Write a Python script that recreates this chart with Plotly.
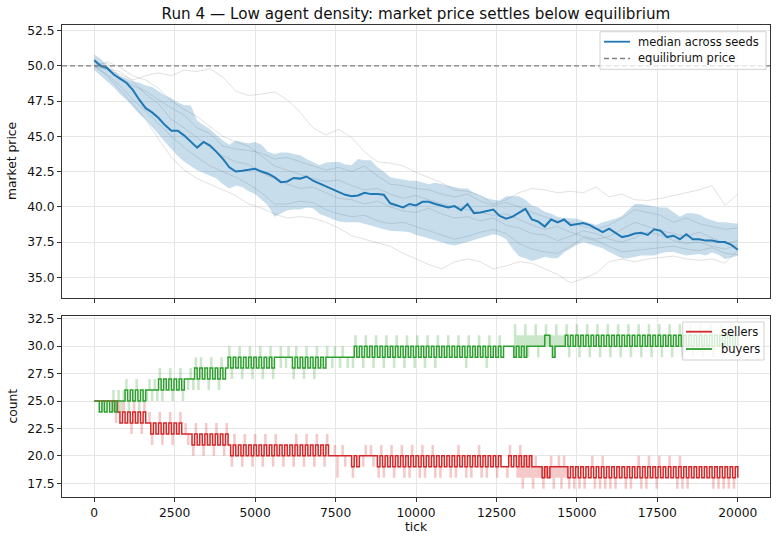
import plotly.graph_objects as go

# ---------------- data ----------------
price_ticks = list(range(0, 20001, 200))
seed_ticks = list(range(0, 20001, 400))
count_ticks = list(range(0, 20001, 80))

equilibrium_price = 50.0

median_price = [
    50.4, 50.0, 49.85, 49.4, 49.1, 48.8, 48.3, 47.6, 47.0, 46.7,
    46.3, 45.8, 45.4, 45.4, 45.05, 44.6, 44.2, 44.6, 44.35, 43.9,
    43.4, 42.8, 42.5, 42.55, 42.6, 42.7, 42.5, 42.35, 42.1, 41.75,
    41.8, 42.05, 42.0, 42.15, 41.85, 41.65, 41.45, 41.25, 41.1, 40.85,
    40.75, 40.8, 41.0, 40.9, 40.9, 40.85, 40.25, 40.1, 39.95, 40.2,
    40.1, 40.35, 40.35, 40.2, 40.05, 39.95, 40.05, 39.75, 40.2, 39.55,
    39.6, 39.7, 39.8, 39.35, 39.15, 39.3, 39.55, 39.85, 39.1, 38.95,
    38.6, 39.1, 38.9, 39.1, 38.7, 38.75, 38.85, 38.7, 38.45, 38.2,
    38.45, 38.15, 37.85, 37.95, 38.1, 38.15, 38.0, 38.4, 38.3, 37.85,
    37.95, 37.7, 38.05, 37.7, 37.7, 37.6, 37.6, 37.5, 37.5, 37.3,
    36.95]

band_hi = [
    50.8, 50.5, 50.0, 49.6, 49.3, 49.1, 48.9, 48.8, 48.6, 48.5,
    48.2, 47.9, 47.7, 47.4, 47.2, 47.2, 46.1, 45.8, 45.5, 45.1,
    44.7, 44.4, 44.7, 44.6, 44.5, 44.6, 44.4, 43.9, 43.75, 43.85,
    43.85, 43.75, 43.65, 43.4, 43.2, 42.95, 43.15, 43.2, 43.2, 43.0,
    42.95, 43.4, 43.3, 43.3, 42.8, 42.5, 42.1, 42.0, 41.9, 41.85,
    41.85, 41.75, 41.6, 41.7, 41.6, 41.5, 41.4, 41.3, 41.3, 41.0,
    40.8, 40.6, 40.5, 40.45, 40.75, 40.75, 40.75, 40.5, 40.1, 39.95,
    39.65, 39.5, 39.3, 39.2, 39.15, 39.15, 39.0, 38.85, 38.7, 38.9,
    39.0, 39.15, 39.35, 39.8, 40.2, 40.2, 40.1, 40.05, 39.95, 39.95,
    39.6, 39.3, 39.55, 39.55, 39.45, 39.2, 39.05, 38.9, 38.9, 38.85,
    38.8]

band_lo = [
    49.7, 49.3, 48.95, 48.5, 48.0, 47.6, 47.1, 46.6, 46.2, 45.7,
    45.15, 44.6, 44.1, 43.6, 43.2, 42.9, 42.6, 42.4, 42.2, 42.0,
    41.6, 41.3, 41.5, 41.4, 41.1, 40.9, 40.5, 40.1, 39.3, 39.5,
    39.75, 39.8, 39.8, 39.95, 39.9, 39.5, 39.3, 39.1, 38.95, 38.9,
    38.9, 38.9, 38.8, 38.65, 38.5, 38.4, 38.3, 38.3, 38.25, 38.2,
    38.0, 37.9, 37.75, 37.6, 37.45, 37.35, 37.25, 37.35, 37.5, 37.65,
    37.8, 37.95, 38.05, 37.95, 37.7, 37.0, 36.5, 36.35, 36.15, 36.3,
    36.45, 36.35, 36.35, 36.75, 37.05, 37.3, 37.5, 37.35, 37.2, 37.05,
    36.8, 36.55, 36.35, 36.35, 36.45, 36.55, 36.55, 36.55, 36.7, 36.8,
    36.8, 36.7, 36.55, 36.6, 36.65, 36.55, 36.75, 36.6, 36.3, 36.4,
    36.55]

seed_a = [50.0, 49.7, 49.4, 49.0, 49.3, 49.5, 49.3, 49.7, 49.6, 49.8,
          49.2, 48.2, 47.9, 48.0, 48.15, 47.6, 46.7, 45.6, 45.1, 45.5,
          44.9, 43.9, 43.2, 43.1, 42.9, 42.45, 42.1, 41.7, 41.2, 41.1,
          40.8, 40.2, 40.5, 41.0, 41.3, 41.2, 41.0, 41.1, 41.0, 41.4,
          40.7, 40.9, 40.5, 40.45, 40.6, 40.8, 41.0, 41.2, 41.5, 40.1, 40.9]
seed_b = [50.0, 49.3, 48.3, 47.3, 46.2, 44.8, 43.5, 42.6, 42.0, 41.6,
          41.2, 40.8, 40.2, 39.9, 39.5, 39.2, 39.3, 39.2, 38.9, 38.5,
          37.95, 37.7, 37.5, 37.2, 36.7, 36.3, 35.9, 35.6, 36.1, 36.3,
          36.1, 35.6, 35.8, 36.1, 36.0, 35.6, 35.2, 34.6, 34.9, 35.3,
          36.1, 36.3, 36.1, 36.3, 36.4, 36.5, 36.3, 36.2, 36.3, 36.0, 36.9]
seed_c = [50.0, 50.2, 49.2, 48.6, 48.2, 47.6, 47.0, 46.5, 45.6, 45.2,
          44.3, 44.1, 44.0, 43.8, 43.4, 43.5, 43.2, 42.9, 42.6, 42.8,
          42.5, 42.9, 42.2, 41.6, 41.5, 41.3, 41.2, 40.9, 40.7, 40.9,
          40.4, 40.1, 40.3, 40.0, 39.6, 39.3, 39.0, 38.9, 38.6, 38.4,
          38.7, 39.2, 39.8, 39.6, 39.4, 38.9, 39.2, 38.8, 38.6, 38.4, 38.5]
seed_d = [50.0, 49.4, 48.6, 47.6, 46.8, 45.9, 45.0, 44.2, 43.5, 42.9,
          42.5, 42.1, 41.6, 41.0, 40.2, 40.2, 40.4, 40.3, 39.8, 39.5,
          39.3, 39.4, 39.0, 38.8, 38.9, 38.6, 38.3, 38.0, 37.7, 37.9,
          38.2, 38.4, 38.1, 37.4, 37.0, 36.8, 36.7, 37.2, 37.8, 37.6,
          37.2, 36.8, 36.9, 37.0, 37.1, 37.2, 37.0, 36.9, 37.1, 36.7, 36.6]
seed_e = [50.0, 49.8, 49.6, 48.9, 48.0, 47.3, 46.2, 45.6, 44.9, 44.2,
          43.6, 43.2, 43.0, 42.4, 42.0, 41.6, 41.3, 41.4, 41.0, 40.6,
          40.5, 40.2, 40.4, 40.0, 39.7, 39.6, 39.9, 39.5, 39.2, 39.3,
          39.0, 39.2, 38.7, 38.5, 38.1, 38.0, 37.6, 37.9, 38.3, 38.1,
          37.7, 37.5, 37.8, 38.2, 38.0, 37.6, 37.4, 37.5, 37.2, 37.0, 37.3]
seed_f = [50.0, 50.3, 49.9, 49.3, 49.0, 48.4, 47.5, 46.9, 46.4, 45.7,
          45.0, 44.6, 44.3, 43.6, 42.9, 42.6, 42.3, 42.0, 41.8, 41.9,
          41.5, 41.2, 41.3, 40.9, 40.6, 40.8, 40.5, 40.2, 40.0, 39.8,
          39.6, 39.4, 39.5, 39.1, 38.7, 38.4, 38.6, 38.2, 37.9, 37.7,
          37.9, 38.4, 38.9, 38.6, 38.3, 38.1, 37.9, 38.2, 37.8, 37.4, 37.6]

sellers = [
    25, 25, 25, 25, 25, 25, 25, 25, 25, 24, 23, 24, 23, 24, 23, 24, 23, 24, 23, 24,
    23, 23, 22, 23, 22, 23, 22, 23, 22, 23, 22, 23, 22, 23, 22, 22, 22, 22, 21, 22,
    21, 22, 21, 22, 21, 22, 21, 22, 21, 22, 21, 22, 21, 20, 21, 20, 21, 20, 21, 20,
    21, 20, 21, 20, 21, 20, 21, 20, 21, 20, 21, 20, 21, 20, 21, 20, 21, 20, 21, 20,
    21, 20, 21, 20, 21, 20, 21, 20, 21, 20, 21, 20, 20, 20, 20, 20, 20, 20, 20, 20,
    19, 20, 19, 20, 20, 20, 20, 20, 20, 20, 19, 20, 19, 20, 19, 20, 19, 20, 19, 20,
    19, 20, 19, 20, 19, 20, 19, 20, 19, 20, 19, 20, 19, 20, 19, 20, 19, 20, 19, 20,
    19, 20, 19, 20, 19, 20, 19, 20, 19, 20, 19, 20, 19, 20, 19, 20, 19, 20, 19, 19,
    19, 20, 19, 20, 19, 20, 19, 20, 19, 20, 19, 19, 19, 19, 18, 19, 18, 19, 19, 19,
    19, 19, 19, 19, 18, 19, 18, 19, 18, 19, 18, 19, 18, 19, 18, 19, 18, 19, 18, 19,
    18, 19, 18, 19, 18, 19, 18, 19, 18, 19, 18, 19, 18, 19, 18, 19, 18, 19, 18, 19,
    18, 19, 18, 19, 18, 19, 18, 19, 18, 19, 18, 19, 18, 19, 18, 19, 18, 19, 18, 19,
    18, 19, 18, 19, 18, 19, 18, 19, 18, 19, 18]
sellers_hi = [
    25, 25, 25, 25, 25, 25, 25, 25, 25, 25, 23, 25, 23, 24, 23, 25, 23, 24, 23, 25,
    23, 24, 22, 23, 22, 24, 22, 23, 22, 24, 22, 23, 22, 24, 22, 23, 22, 22, 21, 23,
    21, 22, 21, 23, 21, 22, 21, 23, 21, 22, 21, 23, 21, 20, 22, 20, 21, 20, 22, 20,
    21, 20, 22, 20, 21, 20, 22, 20, 21, 20, 22, 20, 21, 20, 21, 20, 21, 20, 22, 20,
    21, 20, 22, 20, 21, 20, 22, 20, 21, 20, 22, 20, 20, 21, 20, 20, 21, 20, 20, 20,
    19, 20, 19, 20, 20, 21, 20, 21, 20, 20, 19, 21, 19, 20, 19, 21, 19, 20, 19, 21,
    19, 20, 19, 21, 19, 20, 19, 21, 19, 20, 19, 21, 19, 20, 19, 20, 19, 20, 19, 20,
    19, 21, 19, 20, 19, 20, 19, 20, 19, 21, 19, 20, 19, 20, 19, 20, 19, 20, 19, 19,
    19, 21, 19, 20, 19, 21, 19, 20, 19, 20, 19, 20, 19, 19, 19, 19, 19, 20, 19, 19,
    20, 19, 20, 19, 18, 19, 18, 19, 18, 19, 18, 19, 18, 20, 18, 19, 18, 20, 18, 19,
    18, 19, 18, 19, 18, 19, 18, 19, 18, 19, 18, 20, 18, 19, 18, 20, 18, 19, 18, 20,
    18, 19, 18, 20, 18, 19, 18, 20, 18, 19, 18, 19, 18, 19, 18, 19, 18, 19, 18, 19,
    18, 19, 18, 19, 18, 19, 18, 19, 18, 19, 18]
sellers_lo = [
    25, 25, 25, 25, 25, 25, 25, 24, 23, 24, 23, 24, 23, 24, 22, 24, 23, 24, 22, 24,
    23, 23, 21, 23, 22, 23, 21, 23, 22, 23, 21, 23, 22, 23, 22, 22, 21, 22, 20, 22,
    21, 22, 20, 22, 21, 22, 20, 22, 21, 22, 20, 22, 21, 19, 21, 20, 21, 19, 21, 20,
    21, 19, 21, 20, 21, 19, 21, 20, 21, 19, 21, 20, 21, 19, 21, 20, 21, 19, 21, 20,
    21, 19, 21, 20, 21, 19, 21, 20, 21, 19, 21, 20, 20, 20, 18, 20, 20, 19, 20, 20,
    18, 20, 19, 20, 19, 20, 20, 20, 19, 20, 18, 20, 18, 20, 19, 20, 18, 20, 19, 20,
    18, 20, 18, 20, 19, 20, 18, 20, 18, 20, 19, 20, 18, 20, 18, 20, 19, 20, 18, 20,
    18, 20, 19, 20, 18, 20, 18, 20, 19, 20, 18, 20, 18, 20, 19, 20, 18, 20, 19, 19,
    18, 20, 19, 20, 18, 18, 17, 18, 18, 18, 17, 18, 18, 18, 17, 18, 18, 18, 17, 18,
    18, 17, 18, 18, 17, 19, 17, 19, 17, 19, 17, 19, 18, 19, 17, 19, 17, 19, 17, 19,
    17, 19, 17, 19, 18, 19, 17, 19, 17, 19, 18, 19, 17, 19, 17, 19, 18, 19, 17, 19,
    18, 19, 18, 19, 18, 19, 17, 19, 17, 19, 17, 19, 18, 19, 18, 19, 18, 19, 18, 19,
    17, 19, 17, 19, 17, 19, 17, 19, 17, 19, 18]

buyers = [
    25, 25, 24, 25, 24, 25, 24, 25, 24, 25, 25, 25, 26, 25, 26, 25, 26, 25, 26, 25,
    26, 26, 26, 26, 26, 27, 26, 27, 26, 27, 26, 27, 26, 27, 26, 27, 27, 27, 27, 28,
    27, 28, 27, 28, 27, 28, 27, 28, 27, 28, 27, 28, 29, 28, 29, 28, 29, 28, 29, 28,
    29, 28, 29, 28, 29, 28, 29, 28, 29, 28, 29, 29, 29, 29, 29, 29, 29, 28, 29, 28,
    29, 28, 29, 28, 29, 28, 29, 28, 29, 28, 29, 29, 29, 29, 29, 29, 29, 29, 29, 29,
    29, 30, 29, 30, 29, 30, 29, 30, 29, 30, 29, 30, 29, 30, 29, 30, 29, 30, 29, 30,
    29, 30, 29, 30, 29, 30, 29, 30, 29, 30, 29, 30, 29, 30, 29, 30, 29, 30, 29, 30,
    29, 30, 29, 30, 29, 30, 29, 30, 29, 30, 29, 30, 29, 30, 29, 30, 29, 30, 29, 30,
    30, 30, 30, 29, 30, 29, 30, 29, 30, 30, 30, 30, 30, 30, 30, 31, 31, 30, 29, 30,
    30, 30, 30, 31, 30, 31, 30, 31, 30, 31, 30, 31, 30, 31, 30, 31, 30, 31, 30, 31,
    30, 31, 30, 31, 30, 31, 30, 31, 30, 31, 30, 31, 30, 31, 30, 31, 30, 31, 30, 31,
    30, 31, 30, 31, 30, 31, 30, 31, 30, 31, 30, 31, 30, 31, 30, 31, 30, 31, 30, 31,
    30, 31, 30, 31, 30, 31, 30, 31, 30, 31, 30]
buyers_hi = [
    25, 25, 24, 25, 24, 25, 24, 26, 24, 26, 25, 26, 27, 25, 26, 25, 27, 25, 26, 25,
    26, 27, 26, 27, 26, 28, 26, 27, 26, 28, 26, 27, 26, 28, 26, 27, 27, 28, 27, 29,
    27, 29, 27, 28, 27, 29, 27, 28, 27, 29, 27, 28, 30, 28, 29, 28, 30, 28, 29, 28,
    30, 28, 29, 28, 30, 28, 29, 28, 30, 28, 29, 29, 30, 29, 29, 30, 29, 28, 30, 28,
    29, 28, 30, 28, 29, 28, 30, 28, 29, 28, 30, 29, 29, 30, 29, 29, 30, 29, 29, 29,
    29, 31, 29, 30, 29, 31, 29, 30, 29, 31, 29, 30, 29, 31, 29, 30, 29, 31, 29, 30,
    29, 31, 29, 30, 29, 31, 29, 30, 29, 31, 29, 30, 29, 31, 29, 30, 29, 31, 29, 30,
    29, 31, 29, 30, 29, 31, 29, 30, 29, 31, 29, 30, 29, 31, 29, 30, 29, 31, 29, 30,
    30, 30, 30, 32, 31, 31, 31, 32, 31, 31, 31, 32, 31, 31, 31, 32, 31, 31, 31, 32,
    31, 31, 31, 32, 30, 31, 30, 32, 30, 31, 30, 32, 30, 31, 30, 32, 30, 31, 30, 32,
    30, 31, 30, 32, 30, 31, 30, 32, 30, 31, 30, 32, 30, 31, 30, 32, 30, 31, 30, 32,
    30, 31, 30, 32, 30, 31, 30, 32, 30, 31, 30, 32, 30, 31, 30, 32, 30, 31, 30, 32,
    30, 31, 30, 32, 30, 31, 30, 32, 30, 31, 30]
buyers_lo = [
    25, 25, 24, 24, 24, 25, 24, 24, 24, 25, 24, 25, 26, 24, 26, 25, 26, 24, 26, 25,
    25, 26, 25, 26, 25, 27, 25, 27, 26, 27, 25, 27, 26, 27, 25, 27, 26, 27, 26, 28,
    26, 28, 27, 28, 26, 28, 27, 28, 26, 28, 27, 28, 29, 27, 29, 28, 29, 27, 29, 28,
    29, 27, 29, 28, 29, 27, 29, 28, 29, 27, 29, 29, 28, 29, 28, 29, 29, 27, 29, 28,
    29, 27, 29, 28, 29, 27, 29, 28, 29, 28, 29, 29, 28, 29, 29, 28, 29, 29, 28, 29,
    28, 30, 29, 30, 28, 30, 29, 30, 28, 30, 29, 30, 28, 30, 29, 30, 28, 30, 29, 30,
    28, 30, 29, 30, 28, 30, 29, 30, 28, 30, 29, 30, 28, 30, 29, 30, 29, 30, 29, 30,
    29, 30, 29, 30, 28, 30, 29, 30, 29, 30, 29, 30, 28, 30, 29, 30, 29, 30, 29, 30,
    30, 30, 30, 29, 30, 29, 30, 29, 29, 30, 30, 30, 29, 30, 30, 30, 30, 30, 29, 30,
    30, 30, 30, 31, 29, 31, 30, 31, 29, 31, 30, 31, 29, 31, 30, 31, 29, 31, 30, 31,
    29, 31, 30, 31, 29, 31, 30, 31, 29, 31, 30, 31, 29, 31, 30, 31, 29, 31, 30, 31,
    29, 31, 30, 31, 29, 31, 30, 31, 29, 31, 30, 31, 29, 31, 30, 31, 29, 31, 30, 31,
    29, 31, 30, 31, 29, 31, 30, 31, 29, 31, 30]

x_tick_vals = [0, 2500, 5000, 7500, 10000, 12500, 15000, 17500, 20000]
price_tick_vals = [35.0, 37.5, 40.0, 42.5, 45.0, 47.5, 50.0, 52.5]
count_tick_vals = [17.5, 20.0, 22.5, 25.0, 27.5, 30.0, 32.5]

for name, arr, n in [("median_price", median_price, len(price_ticks)),
                     ("band_hi", band_hi, len(price_ticks)),
                     ("band_lo", band_lo, len(price_ticks)),
                     ("seed_a", seed_a, len(seed_ticks)), ("seed_b", seed_b, len(seed_ticks)),
                     ("seed_c", seed_c, len(seed_ticks)), ("seed_d", seed_d, len(seed_ticks)),
                     ("seed_e", seed_e, len(seed_ticks)), ("seed_f", seed_f, len(seed_ticks)),
                     ("sellers", sellers, len(count_ticks)), ("sellers_hi", sellers_hi, len(count_ticks)),
                     ("sellers_lo", sellers_lo, len(count_ticks)), ("buyers", buyers, len(count_ticks)),
                     ("buyers_hi", buyers_hi, len(count_ticks)), ("buyers_lo", buyers_lo, len(count_ticks))]:
    if len(arr) != n:
        raise ValueError(f"{name}: {len(arr)} != {n}")

# ---------------- styling ----------------
FONT = "DejaVu Sans"
BLUE = "#1f77b4"
RED = "#d62728"
GREEN = "#2ca02c"
GRID = "#e6e6e6"
SPINE = "#333333"

W, H = 777, 541
ML, MR, MT, MB = 62, 7, 25, 44
PW, PH = W - ML - MR, H - MT - MB


def px_x(px):
    return (px - ML) / PW


def px_y(py):
    return (H - MB - py) / PH


fig = go.Figure()

# seeds (faint)
for s in [seed_a, seed_b, seed_c, seed_d, seed_e, seed_f]:
    fig.add_trace(go.Scatter(x=seed_ticks, y=s, mode="lines",
                             line=dict(color="rgba(120,120,120,0.22)", width=1),
                             showlegend=False, hoverinfo="skip", xaxis="x", yaxis="y"))

# band across seeds
fig.add_trace(go.Scatter(x=price_ticks, y=band_lo, mode="lines", line=dict(width=0),
                         showlegend=False, hoverinfo="skip", xaxis="x", yaxis="y"))
fig.add_trace(go.Scatter(x=price_ticks, y=band_hi, mode="lines", line=dict(width=0),
                         fill="tonexty", fillcolor="rgba(31,119,180,0.25)",
                         showlegend=False, hoverinfo="skip", xaxis="x", yaxis="y"))
fig.add_trace(go.Scatter(x=price_ticks, y=median_price, mode="lines",
                         line=dict(color=BLUE, width=2), name="median across seeds",
                         showlegend=False, xaxis="x", yaxis="y"))

# counts
for lo, hi, col in [(sellers_lo, sellers_hi, "rgba(214,39,40,0.25)"),
                    (buyers_lo, buyers_hi, "rgba(44,160,44,0.25)")]:
    fig.add_trace(go.Scatter(x=count_ticks, y=lo, mode="lines", line=dict(width=0, shape="hv"),
                             showlegend=False, hoverinfo="skip", xaxis="x2", yaxis="y2"))
    fig.add_trace(go.Scatter(x=count_ticks, y=hi, mode="lines", line=dict(width=0, shape="hv"),
                             fill="tonexty", fillcolor=col,
                             showlegend=False, hoverinfo="skip", xaxis="x2", yaxis="y2"))
fig.add_trace(go.Scatter(x=count_ticks, y=sellers, mode="lines", name="sellers",
                         line=dict(color=RED, width=1.5, shape="hv"),
                         showlegend=False, xaxis="x2", yaxis="y2"))
fig.add_trace(go.Scatter(x=count_ticks, y=buyers, mode="lines", name="buyers",
                         line=dict(color=GREEN, width=1.5, shape="hv"),
                         showlegend=False, xaxis="x2", yaxis="y2"))

axis_common = dict(showgrid=True, gridcolor=GRID, gridwidth=1, zeroline=False,
                   showline=True, linecolor=SPINE, linewidth=1, mirror=True,
                   ticks="outside", ticklen=4, tickwidth=1, tickcolor=SPINE,
                   tickfont=dict(family=FONT, size=12.3, color="#111"))

upper_bottom = px_y(297.7)
lower_top = px_y(316)

fig.update_layout(
    width=W, height=H,
    margin=dict(l=ML, r=MR, t=MT, b=MB, pad=0),
    paper_bgcolor="white", plot_bgcolor="white",
    showlegend=False, hovermode=False,
    font=dict(family=FONT, color="#111"),
    title=dict(text="Run 4 — Low agent density: market price settles below equilibrium",
               x=0.5, xref="paper", xanchor="center",
               y=1 - 13.5 / H, yref="container", yanchor="middle",
               font=dict(family=FONT, size=15.2, color="#111")),
    xaxis=dict(domain=[0, 1], anchor="y", range=[-1000, 21000], tickvals=x_tick_vals,
               showticklabels=False, **axis_common),
    yaxis=dict(domain=[upper_bottom, 1], anchor="x", range=[33.55, 52.9],
               tickvals=price_tick_vals, tickformat=".1f", **axis_common),
    xaxis2=dict(domain=[0, 1], anchor="y2", range=[-1000, 21000], tickvals=x_tick_vals,
                tickformat="d", **axis_common),
    yaxis2=dict(domain=[0, lower_top], anchor="x2", range=[16.25, 32.75],
                tickvals=count_tick_vals, tickformat=".1f", **axis_common),
)

# equilibrium line
fig.add_shape(type="line", xref="x domain", yref="y", x0=0, x1=1,
              y0=equilibrium_price, y1=equilibrium_price,
              line=dict(color="#7f7f7f", width=1.3, dash="5px,3px"))

# axis labels
lab_font = dict(family=FONT, size=12.3, color="#111")
fig.add_annotation(text="market price", xref="paper", yref="paper", x=px_x(12), y=px_y(161),
                   textangle=-90, showarrow=False, xanchor="center", yanchor="middle", font=lab_font)
fig.add_annotation(text="count", xref="paper", yref="paper", x=px_x(12), y=px_y(406.5),
                   textangle=-90, showarrow=False, xanchor="center", yanchor="middle", font=lab_font)
fig.add_annotation(text="tick", xref="paper", yref="paper", x=0.5, y=px_y(527),
                   showarrow=False, xanchor="center", yanchor="middle", font=lab_font)

# legends (drawn)
leg_font = dict(family=FONT, size=11.5, color="#111")


def legend_box(x0, x1, y0, y1, rows):
    fig.add_shape(type="rect", xref="paper", yref="paper",
                  x0=px_x(x0), x1=px_x(x1), y0=px_y(y1), y1=px_y(y0),
                  fillcolor="rgba(255,255,255,0.8)", line=dict(color="rgba(204,204,204,0.9)", width=1))
    for (ly, color, dash, label, lx0, lx1, tx) in rows:
        fig.add_shape(type="line", xref="paper", yref="paper",
                      x0=px_x(lx0), x1=px_x(lx1), y0=px_y(ly), y1=px_y(ly),
                      line=dict(color=color, width=1.8 if dash == "solid" else 1.3, dash=dash))
        fig.add_annotation(text=label, xref="paper", yref="paper", x=px_x(tx), y=px_y(ly),
                           showarrow=False, xanchor="left", yanchor="middle", font=leg_font)


legend_box(600, 766, 31.7, 69.3, [
    (41.7, BLUE, "solid", "median across seeds", 604, 630, 636),
    (58.5, "#7f7f7f", "5px,3px", "equilibrium price", 604, 630, 636),
])
legend_box(682.7, 764, 322, 360, [
    (331.7, RED, "solid", "sellers", 686, 712, 719),
    (349, GREEN, "solid", "buyers", 686, 712, 719),
])

fig.write_html("out.html", config={"displayModeBar": False})
